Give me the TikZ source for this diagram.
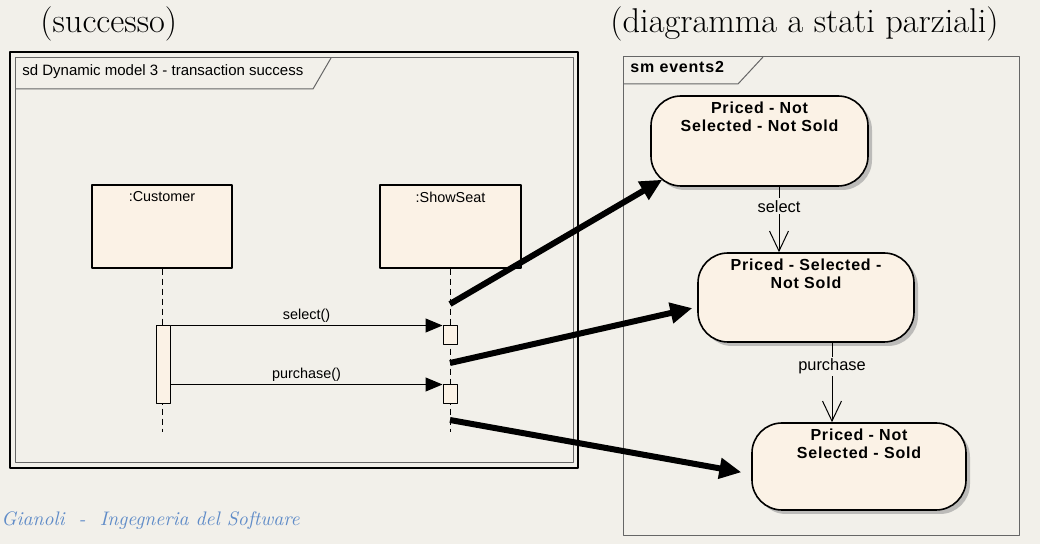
\documentclass[tikz,border=0pt]{standalone}
\usepackage{fontspec}
\newfontfamily\umlfont{Liberation Sans}
\newfontfamily\smfont[LetterSpace=5]{Liberation Sans}
\usetikzlibrary{arrows.meta,shadows}
\definecolor{sfondo}{RGB}{242,240,234}
\definecolor{riempi}{RGB}{251,242,230}
\definecolor{blu}{RGB}{96,140,200}
\begin{document}
\begin{tikzpicture}[x=0.5pt, y=-0.5pt, line join=round,
	lifebox/.style={draw, line width=0.7pt, fill=riempi, minimum width=70pt, minimum height=41.5pt},
	act/.style={draw, line width=0.5pt, fill=riempi, minimum width=7pt, inner sep=0pt},
	stato/.style={draw, line width=0.8pt, fill=riempi, rounded corners=15pt, minimum width=108pt, minimum height=44.5pt,
		drop shadow={shadow xshift=2pt, shadow yshift=-2pt, fill=black!40, opacity=0.6}},
	umltext/.style={font=\umlfont\fontsize{7.2}{9}\selectfont},
	ltext/.style={umltext, anchor=north, inner sep=3.5pt},
	stext/.style={font=\smfont\bfseries\fontsize{8}{9}\selectfont, align=center, anchor=north, inner sep=3pt},
	trtext/.style={font=\umlfont\fontsize{8.2}{9}\selectfont, fill=sfondo, inner sep=1pt},
	linea/.style={dash pattern=on 3pt off 2pt, line width=0.5pt},
	cornice/.style={draw=black!60, line width=0.5pt},
	msg/.style={-{Triangle[length=8.5pt,width=7pt]}, line width=0.5pt},
	trans/.style={-{Straight Barb[length=10pt,width=9.5pt]}, line width=0.5pt},
	freccia/.style={-{Triangle[length=11pt,width=10pt]}, line width=3pt}]
	\fill[sfondo] (0,0) rectangle (1040,544);
	\useasboundingbox (0,0) rectangle (1040,544);
	% titoli
	\node[anchor=base west, inner sep=0pt, font=\fontsize{17.2}{20}\selectfont] (tsx) at (40,33) {(successo)};
	\node[anchor=base west, inner sep=0pt, font=\fontsize{17.2}{20}\selectfont] (tdx) at (610,33) {(diagramma a stati parziali)};
	\node[anchor=base west, inner sep=0pt, text=blu, font=\itshape\fontsize{9.8}{12}\selectfont] (piede) at (1,526) {Gianoli \ - \ Ingegneria del Software};
	% diagramma di sequenza
	\draw[line width=1pt] (10,52) rectangle (578,468);
	\draw[cornice] (15.5,58) rectangle (573,463);
	\draw[cornice] (15.5,89) -- (313,89) -- (331,58);
	\node[anchor=base west, inner sep=0pt, font=\umlfont\fontsize{7.5}{9}\selectfont] (sdtit) at (22,76) {sd Dynamic model 3 - transaction success};
	\node[lifebox, label={[ltext]north:{:Customer}}] (cust) at (162,226.5) {};
	\node[lifebox, minimum width=70.5pt, label={[ltext]north:{:ShowSeat}}] (seat) at (450.5,226.5) {};
	\coordinate (fine1) at (162,432); \coordinate (fine2) at (450,432);
	\draw[linea] (cust.south) -- (fine1);
	\draw[linea] (seat.south -| fine2) -- (fine2);
	\node[act, minimum height=39pt] (bar) at (163,365) {};
	\node[act, minimum height=9.5pt] (a1) at (450,335.5) {};
	\node[act, minimum height=9.5pt] (a2) at (450,394.5) {};
	\draw[msg] (bar.north east) -- (a1.north west) node[midway, above, umltext, inner sep=1.5pt] {select()};
	\draw[msg] (bar.east |- a2.north west) -- (a2.north west) node[midway, above, umltext, inner sep=1.5pt] {purchase()};
	% macchina a stati
	\draw[cornice] (623,57) rectangle (1019,536);
	\draw[cornice] (623,84) -- (738,84) -- (763,57);
	\node[anchor=base west, inner sep=0pt, font=\smfont\bfseries\fontsize{8}{9}\selectfont] (smtit) at (630,73) {sm events2};
	\node[stato, minimum width=108.5pt, minimum height=45pt, label={[stext]north:Priced - Not\\Selected - Not Sold}] (st1) at (759.5,141) {};
	\node[stato, label={[stext]north:Priced - Selected -\\Not Sold}] (st2) at (806,297.5) {};
	\node[stato, minimum width=107pt, minimum height=43.5pt, label={[stext]north:Priced - Not\\Selected - Sold}] (st3) at (859,466.5) {};
	\coordinate (x1) at (779,0); \coordinate (x2) at (832,0);
	\draw[trans] (st1.south -| x1) -- (st2.north -| x1) node[pos=0.3, trtext] {select};
	\draw[trans] (st2.south -| x2) -- (st3.north -| x2) node[pos=0.3, trtext] {purchase};
	% frecce
	\coordinate (p1) at (450,304); \coordinate (p2) at (450,363); \coordinate (p3) at (450,420);
	\draw[freccia, shorten >=-7pt] (p1) -- (st1.south west);
	\draw[freccia, shorten >=2.5pt] (p2) -- (st2.185);
	\draw[freccia, shorten >=5pt] (p3) -- (st3.184);
\end{tikzpicture}
\end{document}
